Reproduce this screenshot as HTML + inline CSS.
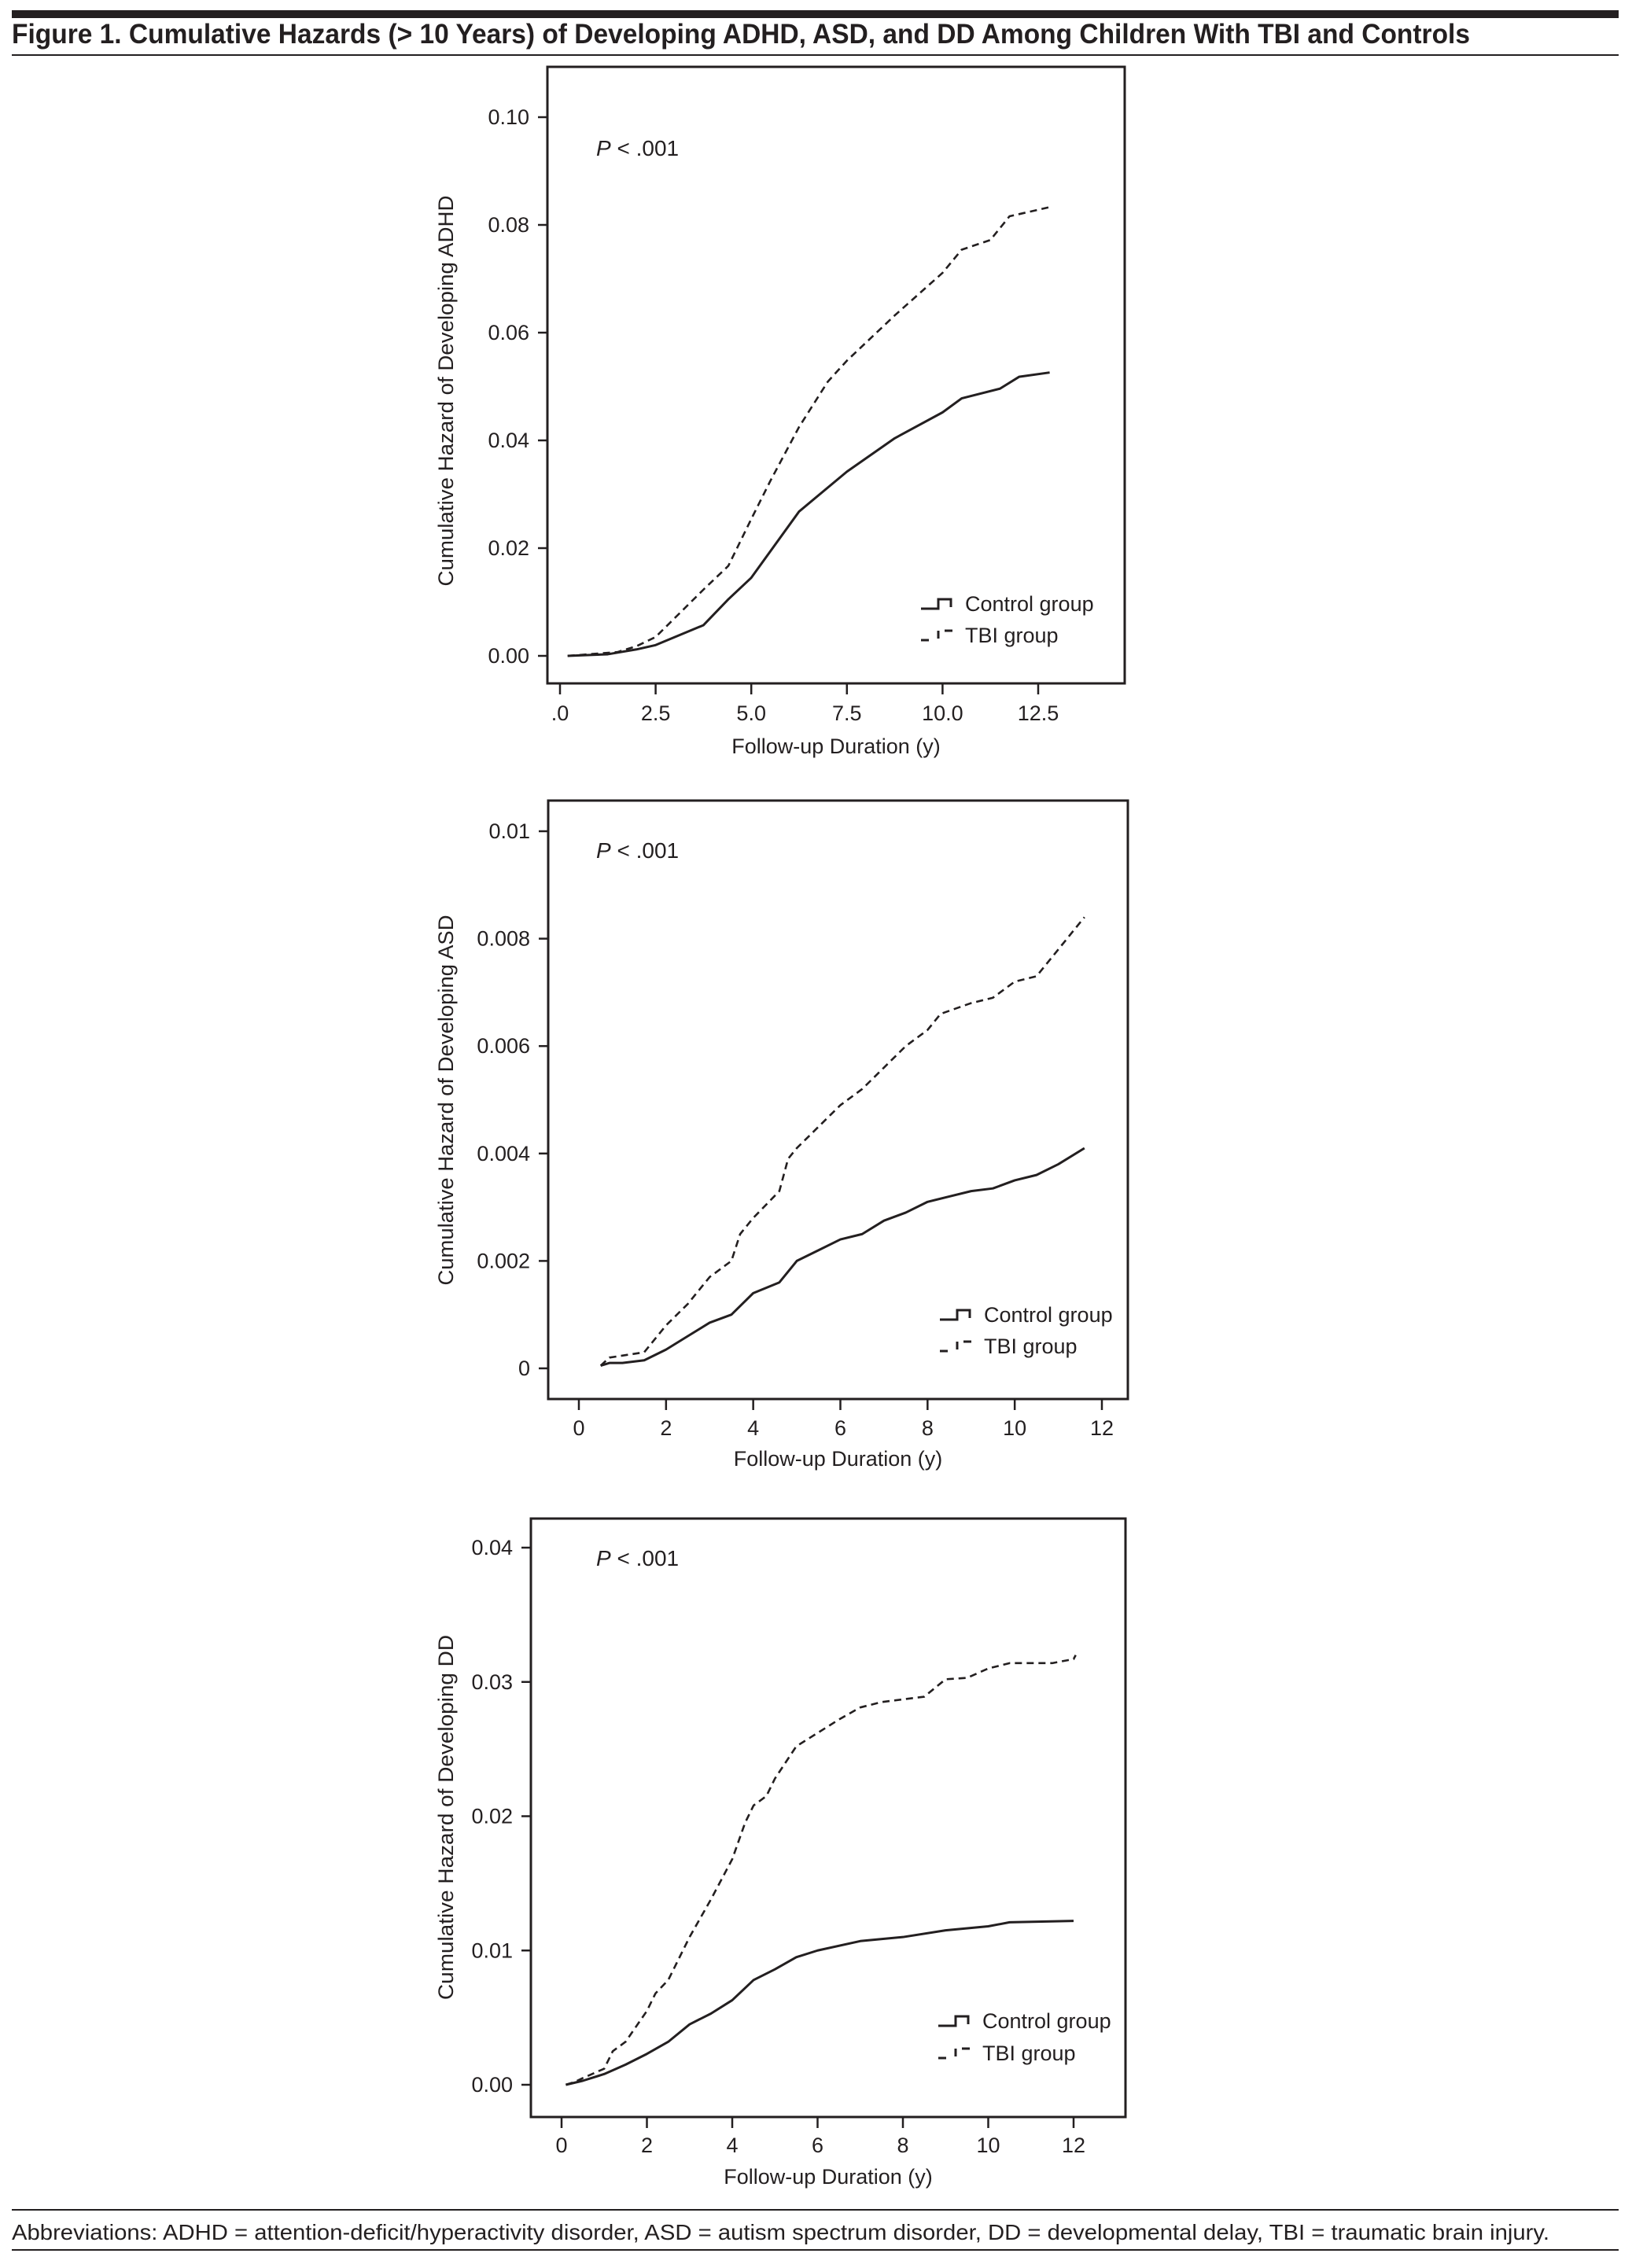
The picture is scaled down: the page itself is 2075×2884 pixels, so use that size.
<!DOCTYPE html>
<html><head><meta charset="utf-8"><style>
html,body{margin:0;padding:0;background:#fff;}
svg{display:block;font-family:"Liberation Sans",sans-serif;}
</style></head><body>
<svg id="fig" width="2075" height="2884" viewBox="0 0 2075 2884" xmlns="http://www.w3.org/2000/svg">
<rect x="15" y="13" width="2043" height="10" fill="#231f20"/>
<text x="15" y="55" font-size="35" font-weight="bold" fill="#231f20" textLength="1854" lengthAdjust="spacingAndGlyphs">Figure 1. Cumulative Hazards (&gt; 10 Years) of Developing ADHD, ASD, and DD Among Children With TBI and Controls</text>
<rect x="15" y="69" width="2043" height="2" fill="#231f20"/>
<rect x="15" y="2809" width="2043" height="2" fill="#231f20"/>
<text x="15" y="2848" font-size="28" fill="#231f20" textLength="1955" lengthAdjust="spacingAndGlyphs">Abbreviations: ADHD = attention-deficit/hyperactivity disorder, ASD = autism spectrum disorder, DD = developmental delay, TBI = traumatic brain injury.</text>
<rect x="15" y="2860" width="2043" height="2" fill="#231f20"/>
</svg>
<script>
// ADHD chart data
const adhdCtrlT = [0.2,1.25,2,2.5,3.75,4.4,5,6.25,7.5,8.75,10,10.5,11.5,12,12.8];
const adhdCtrlV = [0,0.0003,0.0012,0.002,0.0057,0.0105,0.0145,0.0268,0.0342,0.0404,0.0452,0.0478,0.0496,0.0518,0.0526];
const adhdTbiT = [0.2,1.5,2,2.5,3.75,4.4,5,5.5,6.25,7,7.5,8.75,10,10.5,11.25,11.75,12.8];
const adhdTbiV = [0,0.0007,0.0018,0.0035,0.0123,0.0167,0.0254,0.0325,0.0425,0.0509,0.0548,0.0632,0.0711,0.0754,0.0772,0.0816,0.0833];
const adhdYTicks = [0,0.02,0.04,0.06,0.08,0.10];
const adhdYLabels = ["0.00","0.02","0.04","0.06","0.08","0.10"];
const adhdXTicks = [0,2.5,5,7.5,10,12.5];
const adhdXLabels = [".0","2.5","5.0","7.5","10.0","12.5"];
// ASD chart data
const asdCtrlT = [0.5,0.7,1,1.5,2,2.5,3,3.5,4,4.6,5,5.5,6,6.5,7,7.5,8,8.5,9,9.5,10,10.5,11,11.6];
const asdCtrlV = [0.00005,0.0001,0.0001,0.00015,0.00035,0.0006,0.00085,0.001,0.0014,0.0016,0.002,0.0022,0.0024,0.0025,0.00275,0.0029,0.0031,0.0032,0.0033,0.00335,0.0035,0.0036,0.0038,0.0041];
const asdTbiT = [0.5,0.7,1.5,2,2.5,3,3.5,3.7,4,4.6,4.8,5,5.5,6,6.5,7,7.5,8,8.3,9,9.5,10,10.5,11,11.6];
const asdTbiV = [0.00005,0.0002,0.0003,0.0008,0.0012,0.0017,0.002,0.0025,0.0028,0.0033,0.0039,0.0041,0.0045,0.0049,0.0052,0.0056,0.006,0.0063,0.0066,0.0068,0.0069,0.0072,0.0073,0.0078,0.0084];
const asdYTicks = [0,0.002,0.004,0.006,0.008,0.01];
const asdYLabels = ["0","0.002","0.004","0.006","0.008","0.01"];
const asdXTicks = [0,2,4,6,8,10,12];
const asdXLabels = ["0","2","4","6","8","10","12"];
// DD chart data
const ddCtrlT = [0.1,0.5,1,1.5,2,2.5,3,3.5,4,4.5,5,5.5,6,7,8,9,10,10.5,12];
const ddCtrlV = [0,0.0003,0.0008,0.0015,0.0023,0.0032,0.0045,0.0053,0.0063,0.0078,0.0086,0.0095,0.01,0.0107,0.011,0.0115,0.0118,0.0121,0.0122];
const ddTbiT = [0.1,0.3,0.5,1,1.2,1.5,2,2.2,2.5,3,3.5,4,4.3,4.5,4.8,5,5.5,6,6.5,7,7.5,8.5,9,9.5,10,10.5,11.5,12,12.05];
const ddTbiV = [0,0.0002,0.0005,0.0012,0.0025,0.0032,0.0055,0.0068,0.0078,0.011,0.0138,0.0168,0.0195,0.0208,0.0215,0.0228,0.0252,0.0262,0.0272,0.0281,0.0285,0.0289,0.0302,0.0303,0.031,0.0314,0.0314,0.0317,0.032];
const ddYTicks = [0,0.01,0.02,0.03,0.04];
const ddYLabels = ["0.00","0.01","0.02","0.03","0.04"];
const ddXTicks = [0,2,4,6,8,10,12];
const ddXLabels = ["0","2","4","6","8","10","12"];

const NS = "http://www.w3.org/2000/svg";
const svg = document.getElementById('fig');
function mk(tag, attrs, parent){
  const e = document.createElementNS(NS, tag);
  for (const k in attrs) e.setAttribute(k, attrs[k]);
  (parent||svg).appendChild(e);
  return e;
}
function chart(cfg){
  const g = mk('g', {});
  
  
  const xs = t => cfg.x0 + (t - cfg.t0) / (cfg.t1 - cfg.t0) * (cfg.x1 - cfg.x0);
  const ys = v => cfg.y0 + (v - cfg.v0) / (cfg.v1 - cfg.v0) * (cfg.y1 - cfg.y0);
  const box = mk('rect', {x:cfg.bl, y:cfg.bt, width:cfg.br-cfg.bl, height:cfg.bb-cfg.bt, fill:'none', stroke:'#231f20', 'stroke-width':3}, g);
  
  
  cfg.yt.forEach((v,i)=>{
    const y = ys(v);
    const tk = mk('line', {x1:cfg.bl-12, x2:cfg.bl, y1:y, y2:y, stroke:'#231f20', 'stroke-width':2.5}, g);
    
    
    const tx = mk('text', {x:cfg.bl-23, y:y+9, 'font-size':27, 'text-anchor':'end', fill:'#231f20'}, g);
    tx.textContent = cfg.yl[i];
    
    
  });
  cfg.xt.forEach((t,i)=>{
    const x = xs(t);
    const tk = mk('line', {x1:x, x2:x, y1:cfg.bb, y2:cfg.bb+14, stroke:'#231f20', 'stroke-width':2.5}, g);
    
    
    const tx = mk('text', {x:x, y:cfg.xlY+10, 'font-size':27, 'text-anchor':'middle', fill:'#231f20'}, g);
    tx.textContent = cfg.xl[i];
    
    
  });
  const xt = mk('text', {x:(cfg.bl+cfg.br)/2, y:cfg.xtY+10, 'font-size':27, 'text-anchor':'middle', fill:'#231f20'}, g);
  xt.textContent = 'Follow-up Duration (y)';
  
  
  const yt = mk('text', {x:0, y:0, 'font-size':27, 'text-anchor':'middle', fill:'#231f20', transform:`translate(576 ${cfg.ytitleY}) rotate(-90)`, textLength:cfg.ytLen, lengthAdjust:'spacingAndGlyphs'}, g);
  yt.textContent = cfg.ytitle;
  
  
  const p = mk('text', {x:758, y:cfg.pY+10, 'font-size':28, fill:'#231f20'}, g);
  p.innerHTML = '<tspan font-style="italic">P</tspan> &lt; .001';
  
  
  function series(T, V, dash, nm){
    const pts = T.map((t,i)=> xs(t)+','+ys(V[i]));
    const l = mk('polyline', {points:pts.join(' '), fill:'none', stroke:'#231f20', 'stroke-width':dash?2.6:3, 'stroke-dasharray':dash?'9 6':'none', 'stroke-linejoin':'round'}, g);
    
    
  }
  series(cfg.cT, cfg.cV, false, 'control-group-line');
  series(cfg.tT, cfg.tV, true, 'tbi-group-line');
  const lx = cfg.legX, ly1 = cfg.legY1, ly2 = cfg.legY2;
  const lc = mk('path', {d:`M${lx} ${ly1+6} H${lx+22} V${ly1-6} H${lx+38} V${ly1+4}`, fill:'none', stroke:'#231f20', 'stroke-width':3}, g);
  
  
  const ltc = mk('text', {x:lx+56, y:ly1+9, 'font-size':27, fill:'#231f20'}, g);
  ltc.textContent = 'Control group';
  
  
  const lt = mk('path', {d:`M${lx} ${ly2+6} H${lx+10} M${lx+22} ${ly2+4} V${ly2-6} M${lx+30} ${ly2-6} H${lx+40}`, fill:'none', stroke:'#231f20', 'stroke-width':3}, g);
  
  
  const ltt = mk('text', {x:lx+56, y:ly2+9, 'font-size':27, fill:'#231f20'}, g);
  ltt.textContent = 'TBI group';
  
  
}
chart({name:'adhd-chart', bl:696, br:1430, bt:85, bb:869,
  x0:712, x1:1320, t0:0, t1:12.5, y0:834, y1:149, v0:0, v1:0.10,
  yt:adhdYTicks, yl:adhdYLabels, xt:adhdXTicks, xl:adhdXLabels, xlY:906, xtY:948,
  ytitle:'Cumulative Hazard of Developing ADHD', ytitleY:497, ytLen:497, pY:188,
  cT:adhdCtrlT, cV:adhdCtrlV, tT:adhdTbiT, tV:adhdTbiV, legX:1171, legY1:768, legY2:808});
chart({name:'asd-chart', bl:697, br:1434, bt:1018, bb:1779,
  x0:736, x1:1401, t0:0, t1:12, y0:1740, y1:1057, v0:0, v1:0.01,
  yt:asdYTicks, yl:asdYLabels, xt:asdXTicks, xl:asdXLabels, xlY:1815, xtY:1854,
  ytitle:'Cumulative Hazard of Developing ASD', ytitleY:1399, ytLen:471, pY:1081,
  cT:asdCtrlT, cV:asdCtrlV, tT:asdTbiT, tV:asdTbiV, legX:1195, legY1:1672, legY2:1712});
chart({name:'dd-chart', bl:675, br:1431, bt:1931, bb:2692,
  x0:714, x1:1365, t0:0, t1:12, y0:2651, y1:1968, v0:0, v1:0.04,
  yt:ddYTicks, yl:ddYLabels, xt:ddXTicks, xl:ddXLabels, xlY:2727, xtY:2767,
  ytitle:'Cumulative Hazard of Developing DD', ytitleY:2311, ytLen:464, pY:1981,
  cT:ddCtrlT, cV:ddCtrlV, tT:ddTbiT, tV:ddTbiV, legX:1193, legY1:2570, legY2:2611});
</script>
</body></html>
